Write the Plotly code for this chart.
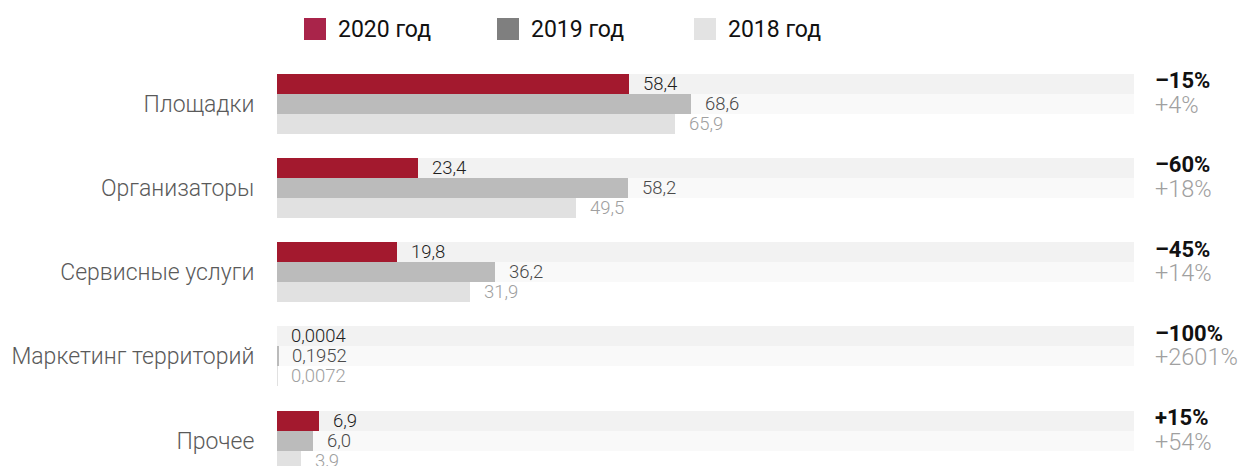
import plotly.graph_objects as go

# ---- data ----
categories = ["Площадки", "Организаторы", "Сервисные услуги", "Маркетинг территорий", "Прочее"]
years = ["2020 год", "2019 год", "2018 год"]
values_2020 = [58.4, 23.4, 19.8, 0.0004, 6.9]
values_2019 = [68.6, 58.2, 36.2, 0.1952, 6.0]
values_2018 = [65.9, 49.5, 31.9, 0.0072, 3.9]
change_2020 = ["–15%", "–60%", "–45%", "–100%", "+15%"]
change_2019 = ["+4%", "+18%", "+14%", "+2601%", "+54%"]

# ---- style ----
FONT = "Roboto"
bar_colors = ["#a3192e", "#bbbbbb", "#e1e1e1"]
legend_colors = ["#a9244a", "#7f7f7f", "#e3e3e3"]
label_colors = ["#1e1e1e", "#4a4a4a", "#a0a0a0"]
track_colors = ["#f2f2f2", "#f9f9f9", None]
XR = 142          # axis range covered by the grey tracks
GROUP = 4.21      # distance between groups (in row units)

W, H = 1245, 466
ML, MR, MT, MB = 277, 111, 64, 0
PW = W - ML - MR
PH = H - MT - MB
Y_TOP = -0.985
Y_BOT = Y_TOP + PH / 20.0

series = [values_2020, values_2019, values_2018]


def fmt(v):
    s = f"{v:.4f}" if v < 1 else f"{v:.1f}"
    return s.replace(".", ",")


fig = go.Figure()

# background tracks
for j, tc in enumerate(track_colors):
    if tc is None:
        continue
    ys = [i * GROUP + j for i in range(len(categories))]
    fig.add_trace(go.Bar(
        x=[XR] * len(categories), y=ys, orientation="h", width=1.0,
        marker=dict(color=tc, line=dict(width=0)), showlegend=False, hoverinfo="skip",
    ))

# data bars
for j, vals in enumerate(series):
    ys = [i * GROUP + j for i in range(len(categories))]
    fig.add_trace(go.Bar(
        x=vals, y=ys, orientation="h", width=1.0, name=years[j],
        marker=dict(color=bar_colors[j], line=dict(width=0)), showlegend=False, hoverinfo="skip",
    ))
    for i, v in enumerate(vals):
        fig.add_annotation(
            x=v, y=i * GROUP + j, xref="x", yref="y", text=fmt(v),
            xanchor="left", yanchor="middle", xshift=12, showarrow=False,
            font=dict(family=FONT, size=18.5, color=label_colors[j], weight=300),
        )

# change labels on the right
for i in range(len(categories)):
    fig.add_annotation(
        x=XR, y=i * GROUP + 0, xref="x", yref="y", text=change_2020[i],
        xanchor="left", yanchor="middle", xshift=19, yshift=3, showarrow=False,
        font=dict(family=FONT, size=22, color="#111111", weight=700),
    )
    fig.add_annotation(
        x=XR, y=i * GROUP + 1, xref="x", yref="y", text=change_2019[i],
        xanchor="left", yanchor="middle", xshift=19, yshift=-1, showarrow=False,
        font=dict(family=FONT, size=23.5, color="#a0a0a0", weight=300),
    )

# legend (manual)
leg_x = [304, 497, 694]
for j, name in enumerate(years):
    x0 = (leg_x[j] - ML) / PW
    x1 = (leg_x[j] + 22 - ML) / PW
    y0 = (H - 40 - MB) / PH
    y1 = (H - 18 - MB) / PH
    fig.add_shape(type="rect", xref="paper", yref="paper", x0=x0, x1=x1, y0=y0, y1=y1,
                  fillcolor=legend_colors[j], line=dict(width=0))
    fig.add_annotation(
        x=(leg_x[j] + 32 - ML) / PW, y=(H - 29 - MB) / PH, xref="paper", yref="paper",
        text=name, xanchor="left", yanchor="middle", showarrow=False,
        font=dict(family=FONT, size=23, color="#111111"),
    )

fig.update_layout(
    width=W, height=H,
    margin=dict(l=ML, r=MR, t=MT, b=MB, pad=0),
    plot_bgcolor="white", paper_bgcolor="white",
    barmode="overlay", bargap=0,
    showlegend=False,
    xaxis=dict(range=[0, XR], visible=False, fixedrange=True),
    yaxis=dict(
        range=[Y_BOT, Y_TOP],
        tickvals=[i * GROUP + 1 for i in range(len(categories))],
        ticktext=categories,
        ticks="outside", ticklen=17, tickcolor="rgba(0,0,0,0)",
        showgrid=False, zeroline=False, showline=False,
        tickfont=dict(family=FONT, size=23, color="#5a5a5a", weight=300),
        fixedrange=True,
    ),
)

fig.write_html("out.html", config={"displayModeBar": False},
               post_script="document.body.style.margin='0';")
